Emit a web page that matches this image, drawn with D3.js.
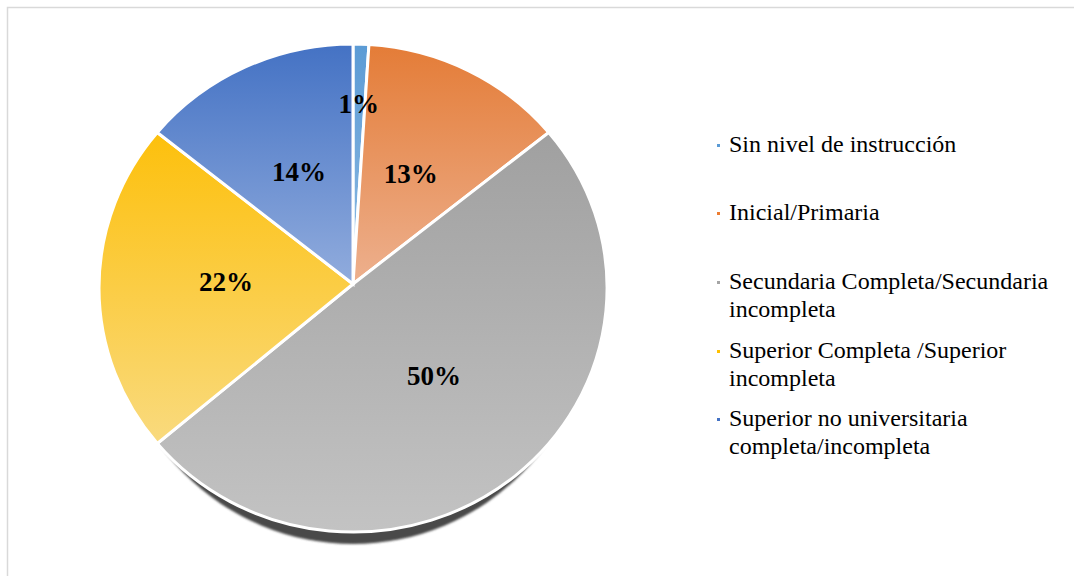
<!DOCTYPE html>
<html>
<head>
<meta charset="utf-8">
<script src="https://cdn.jsdelivr.net/npm/d3@7"></script>
<style>
  html, body { margin: 0; padding: 0; background: #ffffff; }
  svg { display: block; }
  text { font-family: "Liberation Serif", "Times New Roman", serif; }
</style>
</head>
<body>
<svg id="chart" width="1074" height="576"></svg>
<script>
// Nivel de instrucción (porcentaje)
const categories = [
  "Sin nivel de instrucción",
  "Inicial/Primaria",
  "Secundaria Completa/Secundaria incompleta",
  "Superior Completa /Superior incompleta",
  "Superior no universitaria completa/incompleta"
];
const values = [1, 13, 50, 22, 14];
const legendLines = [
  ["Sin nivel de instrucción"],
  ["Inicial/Primaria"],
  ["Secundaria Completa/Secundaria", "incompleta"],
  ["Superior Completa /Superior", "incompleta"],
  ["Superior no universitaria", "completa/incompleta"]
];
const baseColors = ["#5b9bd5", "#ed7d31", "#a5a5a5", "#ffc000", "#4472c4"];
const gradTop    = ["#5b9bd5", "#e47c37", "#a0a0a0", "#fdc00c", "#4472c4"];
const gradBottom = ["#8fbbe3", "#edb08e", "#c3c3c3", "#f9da7e", "#91acdd"];

const svg = d3.select("#chart");
const W = 1074, H = 576;

// chart area frame
svg.append("rect")
  .attr("x", 7.5).attr("y", 7.5)
  .attr("width", W + 10).attr("height", H + 10)
  .attr("fill", "#ffffff")
  .attr("stroke", "#d9d9d9")
  .attr("stroke-width", 1.5);

const cx = 353, cy = 288, rx = 254, ry = 244;
const vx = 353, vy = 284;

const total = d3.sum(values);
const pie = d3.pie().sort(null).value(d => d)(values);

// point on the ellipse for an angle measured clockwise from 12 o'clock
const pt = a => [cx + rx * Math.sin(a), cy - ry * Math.cos(a)];

function slicePath(d) {
  const p0 = pt(d.startAngle), p1 = pt(d.endAngle);
  const large = (d.endAngle - d.startAngle) > Math.PI ? 1 : 0;
  return `M${vx},${vy}L${p0[0]},${p0[1]}A${rx},${ry} 0 ${large} 1 ${p1[0]},${p1[1]}Z`;
}

const defs = svg.append("defs");
baseColors.forEach((c, i) => {
  const g = defs.append("linearGradient")
    .attr("id", "g" + i)
    .attr("x1", 0).attr("y1", 0).attr("x2", 0).attr("y2", 1);
  g.append("stop").attr("offset", "0%").attr("stop-color", gradTop[i]);
  g.append("stop").attr("offset", "100%").attr("stop-color", gradBottom[i]);
});
defs.append("filter").attr("id", "soft")
  .append("feGaussianBlur").attr("stdDeviation", 0.9);

// shadow under the lower rim
const sd = 12, srx = rx - 14;
svg.append("ellipse")
  .attr("cx", cx).attr("cy", cy + sd)
  .attr("rx", srx).attr("ry", ry)
  .attr("fill", "#4a4a4a")
  .attr("filter", "url(#soft)");

const g = svg.append("g");
g.selectAll("path.slice")
  .data(pie)
  .join("path")
  .attr("class", "slice")
  .attr("d", slicePath)
  .attr("fill", (d, i) => `url(#g${i})`)
  .attr("stroke", "#ffffff")
  .attr("stroke-width", 3)
  .attr("stroke-linejoin", "miter");

// data labels
const fmt = v => Math.round(v / total * 100) + "%";
g.selectAll("text.lbl")
  .data(pie)
  .join("text")
  .attr("class", "lbl")
  .each(function (d) {
    const mid = (d.startAngle + d.endAngle) / 2;
    const k = (d.endAngle - d.startAngle) < 0.2 ? 0.73 : 0.5;
    d3.select(this)
      .attr("x", vx + k * rx * Math.sin(mid))
      .attr("y", vy - 2 - k * ry * Math.cos(mid));
  })
  .attr("text-anchor", "middle")
  .attr("dy", "0.35em")
  .attr("font-weight", "bold")
  .attr("font-size", 27)
  .attr("fill", "#000000")
  .text(d => fmt(d.data));

// legend
const legendX = 729;
const rowTop = [152, 220, 289, 358, 426];
const lineH = 28;
const leg = svg.append("g");
categories.forEach((c, i) => {
  leg.append("rect")
    .attr("x", 717).attr("y", rowTop[i] - 8)
    .attr("width", 3).attr("height", 3)
    .attr("fill", baseColors[i]);
  const t = leg.append("text")
    .attr("x", legendX).attr("y", rowTop[i])
    .attr("font-size", 24)
    .attr("fill", "#000000");
  legendLines[i].forEach((line, j) => {
    t.append("tspan").attr("x", legendX).attr("y", rowTop[i] + j * lineH).text(line);
  });
});
</script>
</body>
</html>
